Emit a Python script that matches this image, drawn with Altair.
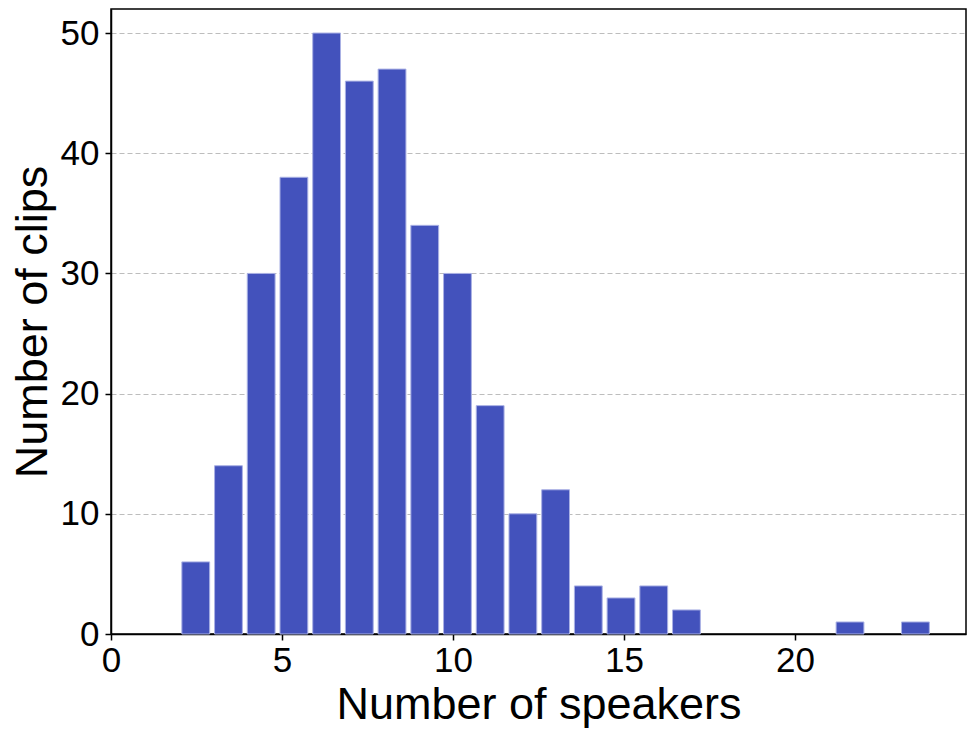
import altair as alt
import pandas as pd

# Histogram counts: 23 equal bins spanning 2..24 speakers
bin_low = 2.0
bin_high = 24.0
counts = [6, 14, 30, 38, 50, 46, 47, 34, 30, 19, 10, 12, 4, 3, 4, 2, 0, 0, 0, 0, 1, 0, 1]
rwidth = 0.85

x_ticks = [0, 5, 10, 15, 20]
y_ticks = [0, 10, 20, 30, 40, 50]

n = len(counts)
w = (bin_high - bin_low) / n
inset = (1 - rwidth) / 2 * w
df = pd.DataFrame({
    "start": [bin_low + i * w + inset for i in range(n)],
    "end": [bin_low + (i + 1) * w - inset for i in range(n)],
    "count": counts,
    "base": [0] * n,
})
df = df[df["count"] > 0]

FONT = "Liberation Sans"

chart = alt.Chart(df).mark_bar(
    color="#4352BC", stroke="#aab1e4", strokeWidth=1
).encode(
    x=alt.X("start:Q",
            scale=alt.Scale(domain=[0, 25], nice=False, zero=False),
            axis=alt.Axis(values=x_ticks, title="Number of speakers", grid=False,
                          labelFontSize=35, titleFontSize=45, labelPadding=3,
                          labelFlush=False, titlePadding=4, format="d")),
    x2="end:Q",
    y=alt.Y("count:Q",
            scale=alt.Scale(domain=[0, 52], nice=False),
            axis=alt.Axis(values=y_ticks, title="Number of clips", grid=True,
                          labelFontSize=35, titleFontSize=45, labelPadding=6,
                          titlePadding=5, format="d",
                          gridDash=[5, 3], gridColor="#bdbdbd", gridWidth=1)),
    y2="base:Q",
).properties(
    width=855, height=625,
    autosize=alt.AutoSizeParams(type="none"),
    padding={"left": 103, "top": 1, "right": 2, "bottom": 94},
).configure_view(
    stroke="black", strokeWidth=1.5
).configure_axis(
    labelFont=FONT, titleFont=FONT, labelColor="black", titleColor="black",
    titleFontWeight="normal", domainColor="black", domainWidth=1.5,
    tickColor="black", tickSize=6, tickWidth=1.5,
)

chart.save("out.html", embed_options={"renderer": "svg", "actions": False})
